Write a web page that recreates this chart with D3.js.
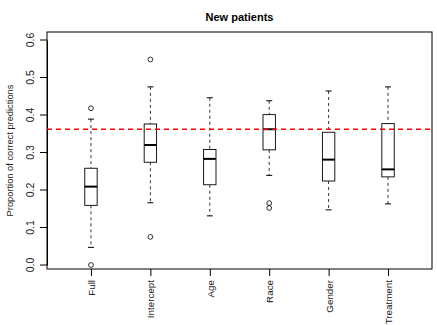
<!DOCTYPE html>
<html><head><meta charset="utf-8">
<script src="https://cdn.jsdelivr.net/npm/d3@7"></script>
<style>body{margin:0;background:#fff}svg{display:block}text{font-family:"Liberation Sans",Arial,sans-serif}</style>
</head><body>
<svg id="c" width="437" height="325"></svg>
<script>
const categories = ["Full","Intercept","Age","Race","Gender","Treatment"];
const lowerWhisker = [0.047,0.166,0.131,0.239,0.147,0.163];
const q1 = [0.159,0.274,0.214,0.307,0.224,0.235];
const median = [0.209,0.320,0.283,0.362,0.281,0.255];
const q3 = [0.258,0.376,0.308,0.401,0.354,0.377];
const upperWhisker = [0.389,0.475,0.446,0.438,0.464,0.475];
const outliers = [[0.418,0.0],[0.548,0.075],[],[0.165,0.152],[],[]];
const reference = 0.362;
const yTicks = [0.0,0.1,0.2,0.3,0.4,0.5,0.6];

const svg = d3.select("#c");
const L=47,R=432,T=32,B=269;
const y = d3.scaleLinear().domain([0,0.6]).range([265,40]);
const x = d3.scaleLinear().domain([0.26,6.74]).range([L,R]);
const bw = 12.4, cw = 6;

svg.append("text").attr("x",(L+R)/2).attr("y",21).attr("text-anchor","middle")
  .attr("font-size",11).attr("font-weight","bold").text("New patients");

// y axis
const ya = svg.append("g").attr("transform",`translate(${L},0)`)
  .call(d3.axisLeft(y).tickValues(yTicks).tickFormat(d3.format(".1f")).tickSize(7).tickSizeOuter(0));
ya.select(".domain").attr("stroke","#000");
ya.selectAll(".tick").attr("transform",null);
ya.selectAll(".tick line").attr("stroke","#000").each(function(d){d3.select(this).attr("y1",y(d)).attr("y2",y(d));});
ya.selectAll(".tick text").attr("font-size",10.5).attr("fill","#222").attr("text-anchor","middle")
  .attr("dy",0).attr("x",0).attr("y",0)
  .each(function(d){ d3.select(this).attr("transform",`translate(-13,${y(d)}) rotate(-90)`); });

// x axis
const xa = svg.append("g").attr("transform",`translate(0,${B})`)
  .call(d3.axisBottom(x).tickValues(d3.range(1,7)).tickFormat(i=>categories[i-1]).tickSize(7).tickSizeOuter(0));
xa.select(".domain").remove();
xa.selectAll(".tick line").attr("stroke","#000");
xa.selectAll(".tick text").attr("font-size",9.8).attr("fill","#222")
  .attr("transform","rotate(-90)").attr("text-anchor","end").attr("x",-11).attr("y",0).attr("dy","0.35em");

svg.append("rect").attr("x",L).attr("y",T).attr("width",R-L).attr("height",B-T)
  .attr("fill","none").attr("stroke","#000").attr("stroke-width",1);

const g = svg.append("g");
categories.forEach((c,i)=>{
  const cx = x(i+1);
  const gg = g.append("g");
  gg.append("line").attr("x1",cx).attr("x2",cx).attr("y1",y(upperWhisker[i])).attr("y2",y(q3[i]))
    .attr("stroke","#000").attr("stroke-dasharray","3,3").attr("stroke-width",0.8);
  gg.append("line").attr("x1",cx).attr("x2",cx).attr("y1",y(q1[i])).attr("y2",y(lowerWhisker[i]))
    .attr("stroke","#000").attr("stroke-dasharray","3,3").attr("stroke-width",0.8);
  [upperWhisker[i],lowerWhisker[i]].forEach(v=>{
    gg.append("line").attr("x1",cx-cw/2).attr("x2",cx+cw/2).attr("y1",y(v)).attr("y2",y(v)).attr("stroke","#000");
  });
  gg.append("rect").attr("x",cx-bw/2).attr("width",bw).attr("y",y(q3[i])).attr("height",y(q1[i])-y(q3[i]))
    .attr("fill","none").attr("stroke","#000").attr("stroke-width",0.9);
  gg.append("line").attr("x1",cx-bw/2).attr("x2",cx+bw/2).attr("y1",y(median[i])).attr("y2",y(median[i]))
    .attr("stroke","#000").attr("stroke-width",2);
  outliers[i].forEach(v=>{
    gg.append("circle").attr("cx",cx).attr("cy",y(v)).attr("r",2.4).attr("fill","none").attr("stroke","#000").attr("stroke-width",0.8);
  });
});

svg.append("line").attr("x1",L).attr("x2",R).attr("y1",y(reference)).attr("y2",y(reference))
  .attr("stroke","#ff0000").attr("stroke-width",1.3).attr("stroke-dasharray","5,4");

svg.append("text").attr("transform",`translate(13,${(T+B)/2}) rotate(-90)`).attr("text-anchor","middle")
  .attr("font-size",9.3).attr("fill","#222").text("Proportion of correct predictions");
</script>
</body></html>
